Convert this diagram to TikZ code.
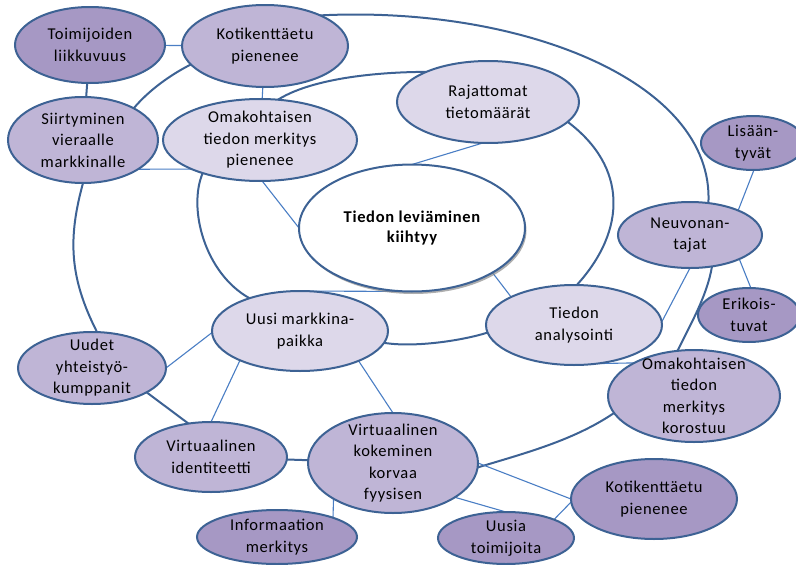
\documentclass[tikz,border=0pt]{standalone}
\usepackage{fontspec}
\setmainfont{Carlito}[LetterSpace=4]
\usetikzlibrary{shapes.geometric,shadows}
\definecolor{ringblue}{HTML}{3D6294}
\definecolor{linkblue}{HTML}{4A7EC4}
\definecolor{pdark}{HTML}{A698C4}
\definecolor{pmid}{HTML}{BFB5D6}
\definecolor{plight}{HTML}{DDD8EA}
\pgfdeclarelayer{bg}
\pgfsetlayers{bg,main}
\begin{document}
\begin{tikzpicture}[x=1pt,y=1pt,
  bub/.style={ellipse, draw=ringblue, line width=2pt, inner sep=0pt, outer sep=0pt},
  txt/.style={align=center, inner sep=0pt, text=black, font=\fontsize{16.5}{21.5}\selectfont},
  boldtxt/.style={txt, font=\fontsize{16.5}{20.5}\selectfont\bfseries},
  ring/.style={draw=ringblue, line width=2pt},
  link/.style={draw=linkblue, line width=1.1pt},
]
\useasboundingbox (0,0) rectangle (796,-565);

% bubbles
\node[bub, fill=pdark, minimum width=150pt, minimum height=76pt,
  label={[txt]center:Toimijoiden\\liikkuvuus}] (toim) at (90,-45) {};
\node[bub, fill=pmid, minimum width=166pt, minimum height=82pt,
  label={[txt]center:Kotikenttäetu\\pienenee}] (kot1) at (265,-46) {};
\node[bub, fill=pmid, minimum width=150pt, minimum height=86pt,
  label={[txt]center:Siirtyminen\\vieraalle\\markkinalle}] (siir) at (83,-140) {};
\node[bub, fill=plight, minimum width=194pt, minimum height=82pt,
  label={[txt]center:Omakohtaisen\\tiedon merkitys\\pienenee}] (oma1) at (260,-140) {};
\node[bub, fill=plight, minimum width=182pt, minimum height=82pt,
  label={[txt]center:Rajattomat\\tietomäärät}] (raj) at (488,-102) {};
\node[bub, fill=white, minimum width=226pt, minimum height=127pt,
  drop shadow={shadow xshift=1.5pt, shadow yshift=-2.5pt, fill=black!45, opacity=0.7},
  label={[boldtxt]center:Tiedon leviäminen\\kiihtyy}] (cen) at (412,-228) {};
\node[bub, fill=pdark, minimum width=104pt, minimum height=54pt,
  label={[txt]center:Lisään-\\tyvät}] (lis) at (753,-143) {};
\node[bub, fill=pmid, minimum width=144pt, minimum height=66pt,
  label={[txt]center:Neuvonan-\\tajat}] (neu) at (690,-235) {};
\node[bub, fill=pdark, minimum width=102pt, minimum height=54pt,
  label={[txt]center:Erikois-\\tuvat}] (eri) at (749,-315) {};
\node[bub, fill=plight, minimum width=176pt, minimum height=80pt,
  label={[txt]center:Tiedon\\analysointi}] (ana) at (574,-325) {};
\node[bub, fill=pmid, minimum width=172pt, minimum height=92pt,
  label={[txt]center:Omakohtaisen\\tiedon\\merkitys\\korostuu}] (omk) at (694,-396) {};
\node[bub, fill=plight, minimum width=176pt, minimum height=80pt,
  label={[txt]center:Uusi markkina-\\paikka}] (mark) at (300,-331) {};
\node[bub, fill=pmid, minimum width=148pt, minimum height=72pt,
  label={[txt]center:Uudet\\yhteistyö-\\kumppanit}] (uud) at (92,-368) {};
\node[bub, fill=pmid, minimum width=152pt, minimum height=70pt,
  label={[txt]center:Virtuaalinen\\identiteetti}] (vid) at (211,-457) {};
\node[bub, fill=pmid, minimum width=170pt, minimum height=100pt,
  label={[txt]center:Virtuaalinen\\kokeminen\\korvaa\\fyysisen}] (vko) at (393,-463) {};
\node[bub, fill=pdark, minimum width=160pt, minimum height=54pt,
  label={[txt]center:Informaation\\merkitys}] (inf) at (277,-537) {};
\node[bub, fill=pdark, minimum width=136pt, minimum height=52pt,
  label={[txt]center:Uusia\\toimijoita}] (uus) at (506,-538) {};
\node[bub, fill=pdark, minimum width=166pt, minimum height=80pt,
  label={[txt]center:Kotikenttäetu\\pienenee}] (kot2) at (654,-499) {};

\begin{pgfonlayer}{bg}
  % outer ring
  \draw[ring] (kot1.29) .. controls +(200,10) and +(6,122) .. (neu.60);
  \draw[ring] (neu.-55) .. controls +(-5,-30) and +(12,25) .. (omk.110);
  \draw[ring] (omk.192) .. controls +(-40,-27) and +(50,15) .. (vko.-3);
  \draw[ring] (vid) -- (vko);
  \draw[ring] (vid.124) -- (uud.-24);
  \draw[ring] (uud.82) .. controls +(-28,55) and +(-15,-55) .. (siir.-90);
  \draw[ring] (siir.32) .. controls +(15,18) and +(-20,-10) .. (kot1.194);
  \draw[ring] (toim) -- (siir);
  % middle ring
  \draw[ring] (oma1.66) .. controls +(40,25) and +(-30,0) .. (raj.154);
  \draw[ring] (raj.-14) .. controls +(60,-45) and +(50,55) .. (ana.86);
  \draw[ring] (mark.-8) .. controls +(30,-5) and +(-25,-8) .. (ana.185);
  \draw[ring] (mark.147) .. controls +(-45,25) and +(-15,-35) .. (oma1.210);
  % thin links
  \draw[link] (toim) -- (kot1);
  \draw[link] (kot1) -- (oma1);
  \draw[link] (siir.-28) -- (oma1.203);
  \draw[link] (oma1.-87) -- (cen.west);
  \draw[link] (raj.-97) -- (cen.north);
  \draw[link] (cen.-29) -- (ana.156);
  \draw[link] (ana.2) -- (neu.-90);
  \draw[link] (neu.27) -- (lis.-88);
  \draw[link] (neu.-26) -- (eri.86);
  \draw[link] (ana.-59) -- (omk.151);
  \draw[link] (mark.north) -- (cen.south);
  \draw[link] (mark.181) -- (uud.0);
  \draw[link] (mark.206) -- (vid.north);
  \draw[link] (mark.-27) -- (vko.north);
  \draw[link] (vko.211) -- (inf.19);
  \draw[link] (vko.0) -- (kot2.180);
  \draw[link] (vko.-29) -- (uus.north);
  \draw[link] (uus.21) -- (kot2.182);
\end{pgfonlayer}
\end{tikzpicture}
\end{document}
